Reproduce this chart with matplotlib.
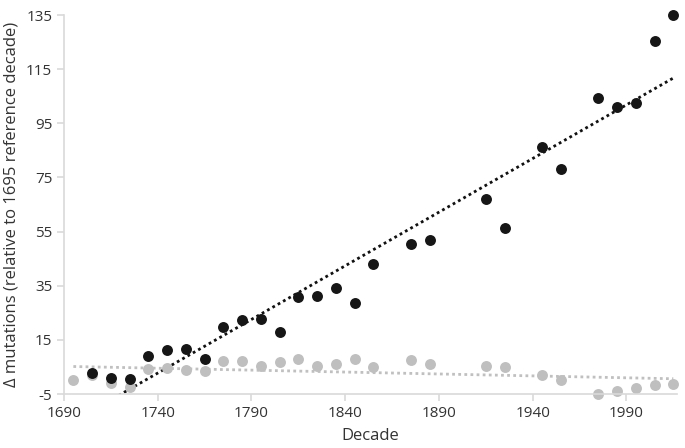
import numpy as np
import matplotlib.pyplot as plt

plt.rcParams["font.family"] = ["Open Sans", "DejaVu Sans"]
plt.rcParams["axes.unicode_minus"] = False

decades_black = [1705, 1715, 1725, 1735, 1745, 1755, 1765, 1775, 1785, 1795, 1805,
                 1815, 1825, 1835, 1845, 1855, 1875, 1885, 1915, 1925, 1945, 1955,
                 1975, 1985, 1995, 2005, 2015]
mut_black = [2.9, 1.0, 0.5, 9.0, 11.4, 11.7, 7.9, 19.6, 22.3, 22.6, 17.8,
             30.8, 31.2, 34.3, 28.6, 42.9, 50.5, 51.9, 67.0, 56.3, 86.2, 78.1,
             104.2, 101.1, 102.6, 125.4, 135.0]

decades_gray = [1695, 1705, 1715, 1725, 1735, 1745, 1755, 1765, 1775, 1785, 1795,
                1805, 1815, 1825, 1835, 1845, 1855, 1875, 1885, 1915, 1925, 1945,
                1955, 1975, 1985, 1995, 2005, 2015]
mut_gray = [0.1, 1.9, -0.8, -2.3, 4.2, 4.6, 3.9, 3.4, 7.1, 7.2, 5.5,
            6.7, 7.9, 5.2, 6.2, 7.8, 5.1, 7.6, 6.0, 5.5, 4.9, 1.9,
            0.3, -4.9, -4.0, -2.7, -1.7, -1.3]

fig = plt.figure(figsize=(6.85, 4.48), dpi=100)
ax = fig.add_axes([0.0934, 0.1205, 0.895, 0.846])

# linear trend lines
xb = np.array(decades_black)
pb = np.polyfit(xb, mut_black, 1)
ax.plot(xb, np.polyval(pb, xb), color="#111111", linestyle=(0, (1, 1.2)), lw=2, zorder=1)
xg = np.array(decades_gray)
pg = np.polyfit(xg, mut_gray, 1)
ax.plot(xg, np.polyval(pg, xg), color="#c0c0c0", linestyle=(0, (1, 1.2)), lw=2, zorder=1)

ax.scatter(decades_gray, mut_gray, s=62, color="#bfbfbf", lw=0, zorder=2, clip_on=False)
ax.scatter(decades_black, mut_black, s=62, color="#161616", lw=0, zorder=3, clip_on=False)

ax.set_xlim(1690, 2017)
ax.set_ylim(-5, 135)
ax.set_xticks(range(1690, 2000, 50))
ax.set_yticks(range(-5, 136, 20))

for s in ["top", "right"]:
    ax.spines[s].set_visible(False)
for s in ["left", "bottom"]:
    ax.spines[s].set_color("#d9d9d9")
    ax.spines[s].set_linewidth(1.2)
ax.tick_params(colors="#d9d9d9", labelcolor="#333333", labelsize=11, length=5, width=1.2)

ax.set_xlabel("Decade", fontsize=12, color="#333333", labelpad=5)
ax.set_ylabel("Δ mutations (relative to 1695 reference decade)", fontsize=12,
              color="#333333", labelpad=5)

fig.savefig("out.png", dpi=100)
